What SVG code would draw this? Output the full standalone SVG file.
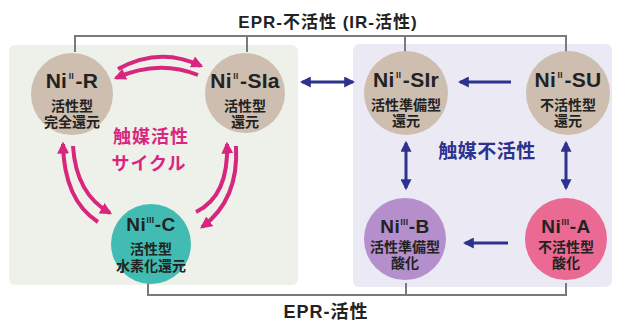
<svg xmlns="http://www.w3.org/2000/svg" width="618" height="322" viewBox="0 0 618 322">
<defs>
<style>
.t{font-family:"Liberation Sans","Noto Sans CJK JP",sans-serif;font-weight:bold;fill:#222;text-anchor:middle}
.h{font-size:21px;letter-spacing:0.3px}
.hb{font-size:19px;letter-spacing:0.5px}
.s{font-size:14px}
.sup{font-size:8px}
.lbl{font-family:"Liberation Sans","Noto Sans CJK JP",sans-serif;font-weight:bold;fill:#222;text-anchor:middle;font-size:17px;letter-spacing:1px}
.mag{font-family:"Noto Sans CJK JP",sans-serif;font-weight:bold;fill:#d8267e;text-anchor:middle;font-size:18px;letter-spacing:1px}
.nav{font-family:"Noto Sans CJK JP",sans-serif;font-weight:bold;fill:#2d3190;text-anchor:middle;font-size:19px;letter-spacing:0.5px}
.br{fill:none;stroke:#7a7a7a;stroke-width:2}
.m{fill:none;stroke:#d8267e;stroke-width:4;marker-end:url(#mh)}
.n{fill:none;stroke:#2d3190;stroke-width:3;marker-end:url(#nh)}
.n2{fill:none;stroke:#2d3190;stroke-width:3;marker-end:url(#nh);marker-start:url(#nhs)}
.tan{fill:#cdbeb0}
</style>
<marker id="mh" viewBox="0 0 10 10" refX="8" refY="5" markerWidth="12" markerHeight="12" markerUnits="userSpaceOnUse" orient="auto"><path d="M0,0 L10,5 L0,10 Z" fill="#d8267e"/></marker>
<marker id="nh" viewBox="0 0 10 10" refX="8" refY="5" markerWidth="11" markerHeight="11" markerUnits="userSpaceOnUse" orient="auto"><path d="M0,0 L10,5 L0,10 Z" fill="#2d3190"/></marker>
<marker id="nhs" viewBox="0 0 10 10" refX="2" refY="5" markerWidth="11" markerHeight="11" markerUnits="userSpaceOnUse" orient="auto"><path d="M10,0 L0,5 L10,10 Z" fill="#2d3190"/></marker>
</defs>
<rect width="618" height="322" fill="#ffffff"/>
<g id="panels">
<rect x="9" y="45" width="289" height="240" rx="6" fill="#eef0ea"/>
<rect x="353" y="44" width="259" height="243" rx="6" fill="#ebe9f3"/>
</g>
<g id="brackets">
<path class="br" d="M75,52 V36 H566 V52 M247,36 V52 M405,36 V52"/>
<path class="br" d="M148,283 V295 H566 V283 M406,283 V295"/>
<text class="lbl" x="328" y="28">EPR-不活性 (IR-活性)</text>
<text class="lbl" x="326" y="318" style="font-size:18px">EPR-活性</text>
</g>
<g id="connectors">
<path class="m" d="M118,69 Q160,46 201,66"/>
<path class="m" d="M198,75 Q158,59 116,78"/>
<path class="m" d="M98,222 Q64,200 63,144"/>
<path class="m" d="M73,146 Q76,194 110,213"/>
<path class="m" d="M196,212 Q229,196 227,144"/>
<path class="m" d="M236,146 Q239,200 202,227"/>
<path class="n2" d="M302,82 H353"/>
<path class="n" d="M511,82 H460"/>
<path class="n2" d="M406,143 V188"/>
<path class="n2" d="M566,143 V188"/>
<path class="n" d="M508,243 H465"/>
</g>
<g id="labels">
<text class="mag" x="151" y="143">触媒活性</text>
<text class="mag" x="149" y="170">サイクル</text>
<text class="nav" x="487" y="158">触媒不活性</text>
</g>
<g id="node-R">
<circle class="tan" cx="72" cy="94" r="41"/>
<text class="t h" x="72" y="88">Ni<tspan class="sup" dy="-9">Ⅱ</tspan><tspan dy="9">-R</tspan></text>
<text class="t s" x="72" y="111">活性型</text>
<text class="t s" x="72" y="127">完全還元</text>
</g>
<g id="node-SIa">
<circle class="tan" cx="245" cy="93" r="40"/>
<text class="t h" x="245" y="88">Ni<tspan class="sup" dy="-9">Ⅱ</tspan><tspan dy="9">-SIa</tspan></text>
<text class="t s" x="245" y="111">活性型</text>
<text class="t s" x="245" y="127">還元</text>
</g>
<g id="node-SIr">
<circle class="tan" cx="406" cy="93" r="42"/>
<text class="t h" x="406" y="87">Ni<tspan class="sup" dy="-9">Ⅱ</tspan><tspan dy="9">-SIr</tspan></text>
<text class="t s" x="406" y="110">活性準備型</text>
<text class="t s" x="406" y="126">還元</text>
</g>
<g id="node-SU">
<circle class="tan" cx="568" cy="93" r="42"/>
<text class="t h" x="568" y="87">Ni<tspan class="sup" dy="-9">Ⅱ</tspan><tspan dy="9">-SU</tspan></text>
<text class="t s" x="568" y="110">不活性型</text>
<text class="t s" x="568" y="126">還元</text>
</g>
<g id="node-C">
<circle cx="151" cy="244" r="40" fill="#42bcb2"/>
<text class="t hb" x="151" y="231">Ni<tspan class="sup" dy="-8">Ⅲ</tspan><tspan dy="8">-C</tspan></text>
<text class="t s" x="151" y="254">活性型</text>
<text class="t s" x="151" y="271">水素化還元</text>
</g>
<g id="node-B">
<circle cx="405" cy="239" r="41" fill="#b48fcc"/>
<text class="t hb" x="405" y="233">Ni<tspan class="sup" dy="-8">Ⅲ</tspan><tspan dy="8">-B</tspan></text>
<text class="t s" x="405" y="252">活性準備型</text>
<text class="t s" x="405" y="268">酸化</text>
</g>
<g id="node-A">
<circle cx="566" cy="239" r="41" fill="#ea6a93"/>
<text class="t hb" x="566" y="233">Ni<tspan class="sup" dy="-8">Ⅲ</tspan><tspan dy="8">-A</tspan></text>
<text class="t s" x="566" y="252">不活性型</text>
<text class="t s" x="566" y="268">酸化</text>
</g>
</svg>
